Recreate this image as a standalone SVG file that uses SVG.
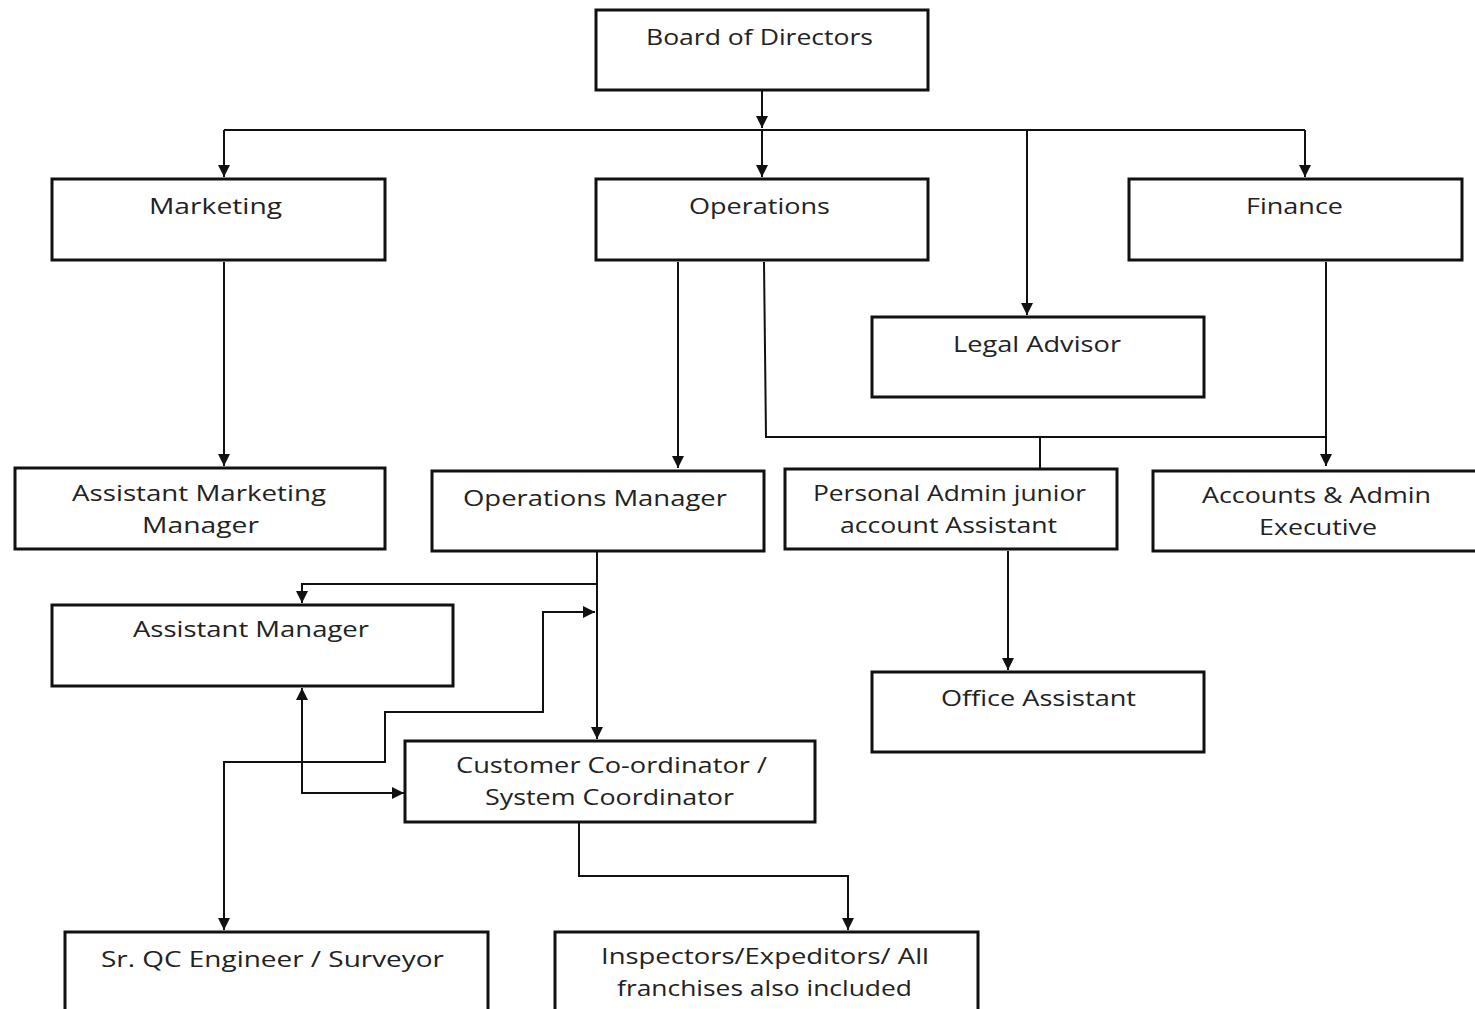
<svg xmlns="http://www.w3.org/2000/svg" width="1475" height="1009" viewBox="0 0 1475 1009">
<style>
.box{fill:#fff;stroke:#111;stroke-width:3}
.t{font-family:"Open Sans","Liberation Sans",sans-serif;font-size:22px;fill:#222;text-anchor:middle}
.c{fill:none;stroke:#111;stroke-width:2}
</style>
<defs>
<marker id="ah" viewBox="0 0 10 10" refX="10" refY="5" markerWidth="12" markerHeight="12" markerUnits="userSpaceOnUse" orient="auto-start-reverse">
<path d="M0,0 L10,5 L0,10 z" fill="#111"/>
</marker>
</defs>
<rect width="1475" height="1009" fill="#fff"/>
<g id="connectors">
<path class="c" d="M762,91 V128" marker-end="url(#ah)"/>
<path class="c" d="M224,130 H1305"/>
<path class="c" d="M224,130 V177" marker-end="url(#ah)"/>
<path class="c" d="M762,130 V177" marker-end="url(#ah)"/>
<path class="c" d="M1027,130 V315" marker-end="url(#ah)"/>
<path class="c" d="M1305,130 V177" marker-end="url(#ah)"/>
<path class="c" d="M224,262 V466" marker-end="url(#ah)"/>
<path class="c" d="M678,262 V468" marker-end="url(#ah)"/>
<path class="c" d="M764,262 L766,437 H1326"/>
<path class="c" d="M1040,437 V468"/>
<path class="c" d="M1326,262 V466" marker-end="url(#ah)"/>
<path class="c" d="M1008,551 V670" marker-end="url(#ah)"/>
<path class="c" d="M597,552 V739" marker-end="url(#ah)"/>
<path class="c" d="M597,584 H302 V603" marker-end="url(#ah)"/>
<path class="c" d="M224,930 V762 H385 V712 H543 V612 H595" marker-start="url(#ah)" marker-end="url(#ah)"/>
<path class="c" d="M302,688 V793 H404" marker-start="url(#ah)" marker-end="url(#ah)"/>
<path class="c" d="M579,823 V876 H848 V930" marker-end="url(#ah)"/>
</g>
<g id="board"><rect class="box" x="596" y="10" width="332" height="80"/><text class="t" x="759.5" y="45" textLength="227" lengthAdjust="spacingAndGlyphs">Board of Directors</text></g>
<g id="marketing"><rect class="box" x="52" y="179" width="333" height="81"/><text class="t" x="215.5" y="214" textLength="133" lengthAdjust="spacingAndGlyphs">Marketing</text></g>
<g id="operations"><rect class="box" x="596" y="179" width="332" height="81"/><text class="t" x="759.5" y="214" textLength="141" lengthAdjust="spacingAndGlyphs">Operations</text></g>
<g id="finance"><rect class="box" x="1129" y="179" width="333" height="81"/><text class="t" x="1294.5" y="214" textLength="97" lengthAdjust="spacingAndGlyphs">Finance</text></g>
<g id="legal"><rect class="box" x="872" y="317" width="332" height="80"/><text class="t" x="1037" y="352" textLength="168" lengthAdjust="spacingAndGlyphs">Legal Advisor</text></g>
<g id="asst-mkt"><rect class="box" x="15" y="468" width="370" height="81"/><text class="t" x="199" y="501" textLength="254" lengthAdjust="spacingAndGlyphs">Assistant Marketing</text><text class="t" x="200.5" y="533" textLength="117" lengthAdjust="spacingAndGlyphs">Manager</text></g>
<g id="ops-mgr"><rect class="box" x="432" y="471" width="332" height="80"/><text class="t" x="595" y="506" textLength="264" lengthAdjust="spacingAndGlyphs">Operations Manager</text></g>
<g id="personal-admin"><rect class="box" x="785" y="469" width="332" height="80"/><text class="t" x="949.5" y="501" textLength="273" lengthAdjust="spacingAndGlyphs">Personal Admin junior</text><text class="t" x="948.5" y="533" textLength="217" lengthAdjust="spacingAndGlyphs">account Assistant</text></g>
<g id="accounts"><rect class="box" x="1153" y="471" width="330" height="80"/><text class="t" x="1316.5" y="503" textLength="229" lengthAdjust="spacingAndGlyphs">Accounts &amp; Admin</text><text class="t" x="1318" y="535" textLength="118" lengthAdjust="spacingAndGlyphs">Executive</text></g>
<g id="asst-mgr"><rect class="box" x="52" y="605" width="401" height="81"/><text class="t" x="251" y="637" textLength="236" lengthAdjust="spacingAndGlyphs">Assistant Manager</text></g>
<g id="office-asst"><rect class="box" x="872" y="672" width="332" height="80"/><text class="t" x="1038.5" y="706" textLength="195" lengthAdjust="spacingAndGlyphs">Office Assistant</text></g>
<g id="cust-coord"><rect class="box" x="405" y="741" width="410" height="81"/><text class="t" x="611.5" y="773" textLength="311" lengthAdjust="spacingAndGlyphs">Customer Co-ordinator  /</text><text class="t" x="609.5" y="805" textLength="249" lengthAdjust="spacingAndGlyphs">System Coordinator</text></g>
<g id="sr-qc"><rect class="box" x="65" y="932" width="423" height="90"/><text class="t" x="272.5" y="967" textLength="343" lengthAdjust="spacingAndGlyphs">Sr. QC Engineer / Surveyor</text></g>
<g id="inspectors"><rect class="box" x="555" y="932" width="423" height="90"/><text class="t" x="765" y="964" textLength="328" lengthAdjust="spacingAndGlyphs">Inspectors/Expeditors/ All</text><text class="t" x="764.5" y="996" textLength="295" lengthAdjust="spacingAndGlyphs">franchises also included</text></g>
</svg>
